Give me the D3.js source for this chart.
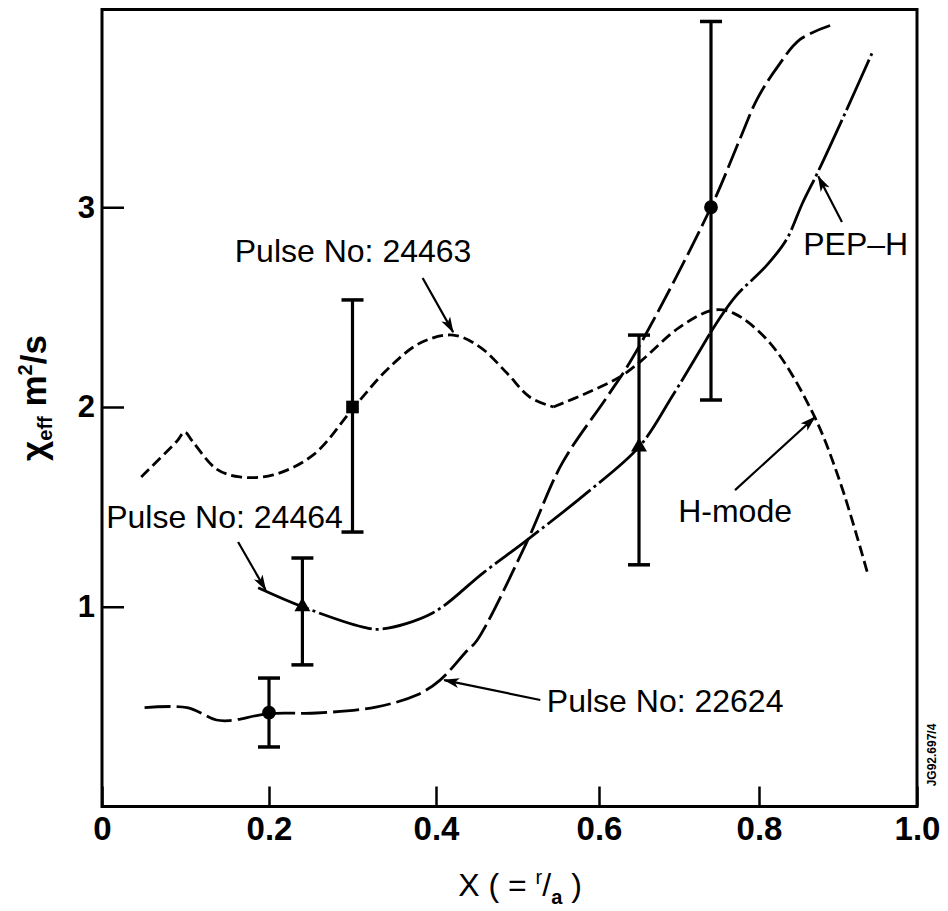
<!DOCTYPE html>
<html><head><meta charset="utf-8">
<script src="https://cdn.jsdelivr.net/npm/d3@7"></script>
<style>
html,body{margin:0;padding:0;background:#fff;}
svg{display:block;font-family:"Liberation Sans",Arial,Helvetica,sans-serif;}
</style></head>
<body><svg id="chart" width="948" height="911"></svg>
<script>
// ---------- data ----------
const xTicks = [0, 0.2, 0.4, 0.6, 0.8, 1.0];
const xTickLabels = ["0", "0.2", "0.4", "0.6", "0.8", "1.0"];
const yTicks = [1, 2, 3];
const yTickLabels = ["1", "2", "3"];

// Pulse No: 24463 (short dashes) -> continues as H-mode
const pulse24463 = [
  [0.047,1.65],[0.090,1.83],[0.099,1.875],[0.108,1.83],[0.137,1.69],[0.165,1.65],[0.205,1.66],[0.253,1.76],
  [0.300,1.99],[0.341,2.185],[0.381,2.32],[0.421,2.36],[0.454,2.30],[0.487,2.17],
  [0.515,2.05],[0.544,2.00]
];
const hMode = [
  [0.544,2.00],[0.585,2.07],[0.626,2.15],[0.651,2.225],[0.701,2.40],[0.743,2.485],
  [0.768,2.47],[0.814,2.32],[0.868,1.97],[0.903,1.62],[0.938,1.16]
];
// Pulse No: 24464 (dash-dot) -> continues as PEP-H
const pulse24464 = [
  [0.187,1.095],[0.240,1.0],[0.317,0.894],[0.336,0.889],[0.396,0.969],[0.458,1.17],
  [0.512,1.335],[0.585,1.57],[0.650,1.80],[0.6925,2.06],[0.739,2.37]
];
const pepH = [
  [0.739,2.37],[0.770,2.55],[0.810,2.71],[0.835,2.84],[0.855,3.02],[0.875,3.18],[0.910,3.48],[0.944,3.78]
];
// Pulse No: 22624 (long dashes)
const pulse22624 = [
  [0.051,0.495],[0.102,0.495],[0.137,0.433],[0.153,0.43],[0.200,0.465],[0.257,0.468],
  [0.328,0.498],[0.377,0.558],[0.405,0.633],[0.438,0.78],[0.450,0.83],[0.511,1.32],
  [0.555,1.72],[0.610,2.05],[0.6425,2.25],[0.740,3.0],[0.776,3.34],[0.7975,3.54],
  [0.823,3.70],[0.852,3.84],[0.890,3.91]
];
// measured points with error bars: x, value, low, high, marker
const pointX    = [0.20, 0.24, 0.30, 0.65, 0.74];
const pointY    = [0.47, 1.00, 2.00, 1.80, 3.00];
const pointLow  = [0.298, 0.709, 1.374, 1.21, 2.035];
const pointHigh = [0.643, 1.244, 2.536, 2.36, 3.93];
const pointShape = ["circle", "triangle", "square", "triangle", "circle"];

// annotations: label, text x, text baseline, arrow from, arrow to
const annoText  = ["Pulse No: 24463", "Pulse No: 24464", "Pulse No: 22624", "PEP\u2013H", "H-mode"];
const annoPos   = [[0.159,2.726],[0.005,1.394],[0.536,0.474],[0.856,2.761],[0.699,1.424]];
const annoFrom  = [[0.384,2.646],[0.163,1.324],[0.528,0.533],[0.905,2.926],[0.770,1.584]];
const annoTo    = [[0.421,2.375],[0.196,1.084],[0.410,0.633],[0.875,3.155],[0.871,1.95]];

const xDomainMax = 1.0, yDomainMax = 3.99;

// ---------- drawing ----------
const svg = d3.select("#chart");
const x = d3.scaleLinear().domain(xTicks).range([102, 269, 436, 599, 759, 917]);
const y = d3.scaleLinear().domain([0, 4]).range([806.5, 7.5]);

svg.append("defs").append("marker")
  .attr("id","arrow").attr("markerUnits","userSpaceOnUse")
  .attr("viewBox","0 0 16 10").attr("refX",15).attr("refY",5)
  .attr("markerWidth",16).attr("markerHeight",10).attr("orient","auto")
  .append("path").attr("d","M0,0 L16,5 L0,10 L4,5 Z").attr("fill","#000");

// frame
svg.append("rect")
  .attr("x", x(0)).attr("y", y(yDomainMax))
  .attr("width", x(xDomainMax) - x(0)).attr("height", y(0) - y(yDomainMax))
  .attr("fill","none").attr("stroke","#000").attr("stroke-width",3);

// axes
const gx = svg.append("g").attr("transform",`translate(0,${y(0)})`)
  .call(d3.axisBottom(x).tickValues(xTicks).tickFormat((d,i)=>xTickLabels[i]).tickSize(-20).tickPadding(10));
gx.select(".domain").remove();
gx.selectAll("line").attr("stroke","#000").attr("stroke-width",2.5);
gx.selectAll("text").attr("font-size",33).attr("font-weight","bold").attr("fill","#000")
  .attr("font-family","'Liberation Sans',Arial,sans-serif");

const gy = svg.append("g").attr("transform",`translate(${x(0)},0)`)
  .call(d3.axisLeft(y).tickValues(yTicks).tickFormat((d,i)=>yTickLabels[i]).tickSize(-22).tickPadding(7));
gy.select(".domain").remove();
gy.selectAll("line").attr("stroke","#000").attr("stroke-width",2.5);
gy.selectAll("text").attr("font-size",31).attr("font-weight","bold").attr("fill","#000")
  .attr("font-family","'Liberation Sans',Arial,sans-serif");

// curves
const line = d3.line().x(d=>x(d[0])).y(d=>y(d[1])).curve(d3.curveCatmullRom.alpha(0.5));
const curves = [
  {data: pulse24463, dash: "11,5"},
  {data: hMode, dash: "11,5"},
  {data: pulse24464, dash: "55,4,3,4"},
  {data: pepH, dash: "55,4,3,4"},
  {data: pulse22624, dash: "26,6"}
];
svg.append("g").selectAll("path").data(curves).join("path")
  .attr("d", d=>line(d.data)).attr("fill","none").attr("stroke","#000")
  .attr("stroke-width",2.8).attr("stroke-dasharray", d=>d.dash);

// error bars
const eb = svg.append("g").selectAll("g").data(pointX.map((v,i)=>i)).join("g");
eb.append("line").attr("x1",i=>x(pointX[i])).attr("x2",i=>x(pointX[i]))
  .attr("y1",i=>y(pointLow[i])).attr("y2",i=>y(pointHigh[i])).attr("stroke","#000").attr("stroke-width",3.2);
eb.append("line").attr("x1",i=>x(pointX[i])-11).attr("x2",i=>x(pointX[i])+11)
  .attr("y1",i=>y(pointLow[i])).attr("y2",i=>y(pointLow[i])).attr("stroke","#000").attr("stroke-width",3.5);
eb.append("line").attr("x1",i=>x(pointX[i])-11).attr("x2",i=>x(pointX[i])+11)
  .attr("y1",i=>y(pointHigh[i])).attr("y2",i=>y(pointHigh[i])).attr("stroke","#000").attr("stroke-width",3.5);
const sym = {circle: d3.symbolCircle, square: d3.symbolSquare, triangle: d3.symbolTriangle};
const symSize = {circle: 150, square: 160, triangle: 110};
eb.append("path")
  .attr("transform", i=>`translate(${x(pointX[i])},${y(pointY[i])})`)
  .attr("d", i=>d3.symbol().type(sym[pointShape[i]]).size(symSize[pointShape[i]])())
  .attr("fill","#000");

// annotations
const ann = svg.append("g");
ann.selectAll("text").data(annoText).join("text")
  .attr("x",(d,i)=>x(annoPos[i][0])).attr("y",(d,i)=>y(annoPos[i][1]))
  .attr("font-size",32).attr("fill","#000").text(d=>d);
ann.selectAll("line").data(annoText).join("line")
  .attr("x1",(d,i)=>x(annoFrom[i][0])).attr("y1",(d,i)=>y(annoFrom[i][1]))
  .attr("x2",(d,i)=>x(annoTo[i][0])).attr("y2",(d,i)=>y(annoTo[i][1]))
  .attr("stroke","#000").attr("stroke-width",2.2).attr("marker-end","url(#arrow)");

// axis titles
const xt = svg.append("text").attr("x",520).attr("y",896).attr("text-anchor","middle")
  .attr("font-size",32).attr("fill","#000");
xt.append("tspan").text("X ( = ");
xt.append("tspan").attr("font-size",20).attr("dy",-12).text("r");
xt.append("tspan").attr("dy",12).text("/");
xt.append("tspan").attr("font-size",20).attr("dy",8).attr("font-weight","bold").text("a");
xt.append("tspan").attr("dy",-8).text(" )");

const yt = svg.append("text").attr("transform","translate(46,398) rotate(-90)")
  .attr("text-anchor","middle").attr("font-size",35).attr("font-weight","bold").attr("fill","#000");
yt.append("tspan").text("\u03c7");
yt.append("tspan").attr("font-size",20).attr("dy",6).text("eff");
yt.append("tspan").attr("dy",-6).text(" m");
yt.append("tspan").attr("font-size",20).attr("dy",-14).text("2");
yt.append("tspan").attr("dy",14).text("/s");

svg.append("text").attr("transform","translate(936,755) rotate(-90)")
  .attr("text-anchor","middle").attr("font-size",12).attr("font-weight","bold").attr("fill","#000")
  .text("JG92.697/4");
</script></body></html>
